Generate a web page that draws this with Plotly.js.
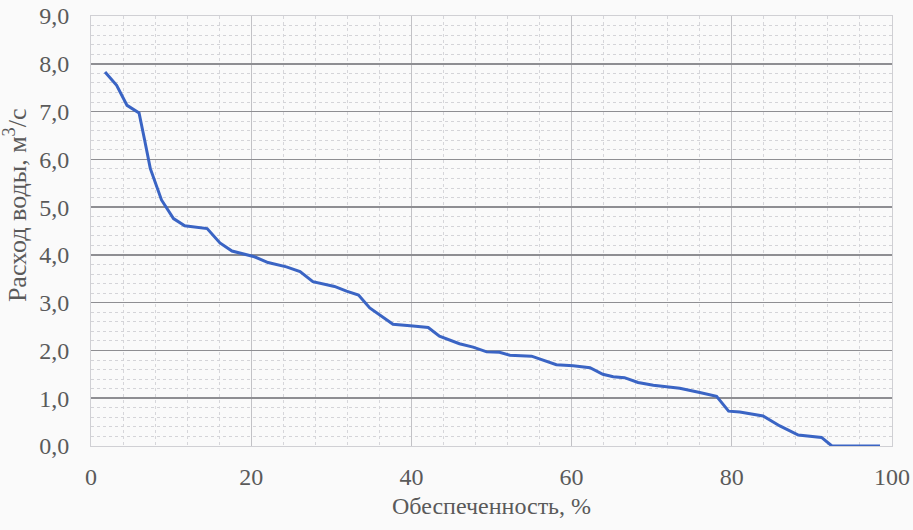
<!DOCTYPE html>
<html>
<head>
<meta charset="utf-8">
<script src="https://cdn.plot.ly/plotly-3.0.1.min.js"></script>
<style>html,body{margin:0;padding:0;background:#fafafa;}</style>
</head>
<body>
<div id="chart" style="width:913px;height:530px;"></div>
<script>
const provision = [1.75, 3.2, 4.5, 6.0, 6.7, 7.4, 8.8, 10.3, 11.7, 14.5, 16.1, 17.6, 20.4, 22.1, 24.4, 26.1, 27.7, 30.4, 31.9, 33.4, 34.8, 37.7, 40.2, 42.1, 43.5, 46.0, 47.7, 49.4, 51.0, 52.3, 55.0, 56.9, 58.1, 60.2, 62.3, 63.9, 65.2, 66.6, 68.3, 70.2, 73.5, 76.0, 78.1, 79.6, 81.0, 83.9, 86.0, 88.3, 91.2, 92.5, 98.5];
const discharge = [7.83, 7.55, 7.13, 6.97, 6.40, 5.81, 5.15, 4.76, 4.61, 4.55, 4.25, 4.08, 3.96, 3.84, 3.75, 3.65, 3.44, 3.34, 3.24, 3.16, 2.89, 2.55, 2.51, 2.48, 2.30, 2.14, 2.07, 1.97, 1.96, 1.90, 1.88, 1.76, 1.70, 1.68, 1.64, 1.50, 1.45, 1.43, 1.33, 1.27, 1.21, 1.12, 1.04, 0.73, 0.71, 0.63, 0.42, 0.23, 0.18, 0.0, 0.0];
const xTitle = "Обеспеченность, %";
const yTitle = "Расход воды, м<sup>3</sup>/с";

const font = {family: "Liberation Serif, Times New Roman, serif", size: 24, color: "#5a5a5a"};
const yTitleFont = {family: "Liberation Serif, Times New Roman, serif", size: 26, color: "#5a5a5a"};

const trace = {
  x: provision, y: discharge, type: "scatter", mode: "lines",
  line: {color: "#3a64c4", width: 3}, hoverinfo: "skip"
};

const layout = {
  width: 913, height: 530,
  margin: {l: 91, r: 21, t: 16, b: 84},
  paper_bgcolor: "#fafafa", plot_bgcolor: "#fafafa",
  showlegend: false,
  font: font,
  xaxis: {
    range: [0, 100], dtick: 20, tick0: 0,
    showgrid: true, gridcolor: "#c2c2c6", gridwidth: 1,
    minor: {dtick: 4, showgrid: true, gridcolor: "#d6d6da", griddash: "dot", gridwidth: 1},
    zeroline: false, showline: true, linecolor: "#d0d0d4", linewidth: 1, mirror: true,
    ticks: "outside", ticklen: 9, tickcolor: "rgba(0,0,0,0)",
    tickfont: font,
    title: {text: xTitle, font: font, standoff: 8}
  },
  yaxis: {
    range: [0, 9], dtick: 1, tick0: 0, tickformat: ".1f",
    showgrid: true, gridcolor: "#8e8e92", gridwidth: 1.5,
    minor: {dtick: 0.2, showgrid: true, gridcolor: "#d4d4d8", griddash: "dot", gridwidth: 1},
    zeroline: false, showline: true, linecolor: "#d0d0d4", linewidth: 1, mirror: true,
    ticks: "outside", ticklen: 16, tickcolor: "rgba(0,0,0,0)",
    tickfont: font
  },
  separators: ", ",
  annotations: [{
    text: yTitle, xref: "paper", yref: "paper", x: -0.095, y: 0.56,
    xanchor: "center", yanchor: "middle", textangle: -90, showarrow: false, font: yTitleFont
  }]
};

Plotly.newPlot("chart", [trace], layout, {displayModeBar: false, staticPlot: true});
</script>
</body>
</html>
